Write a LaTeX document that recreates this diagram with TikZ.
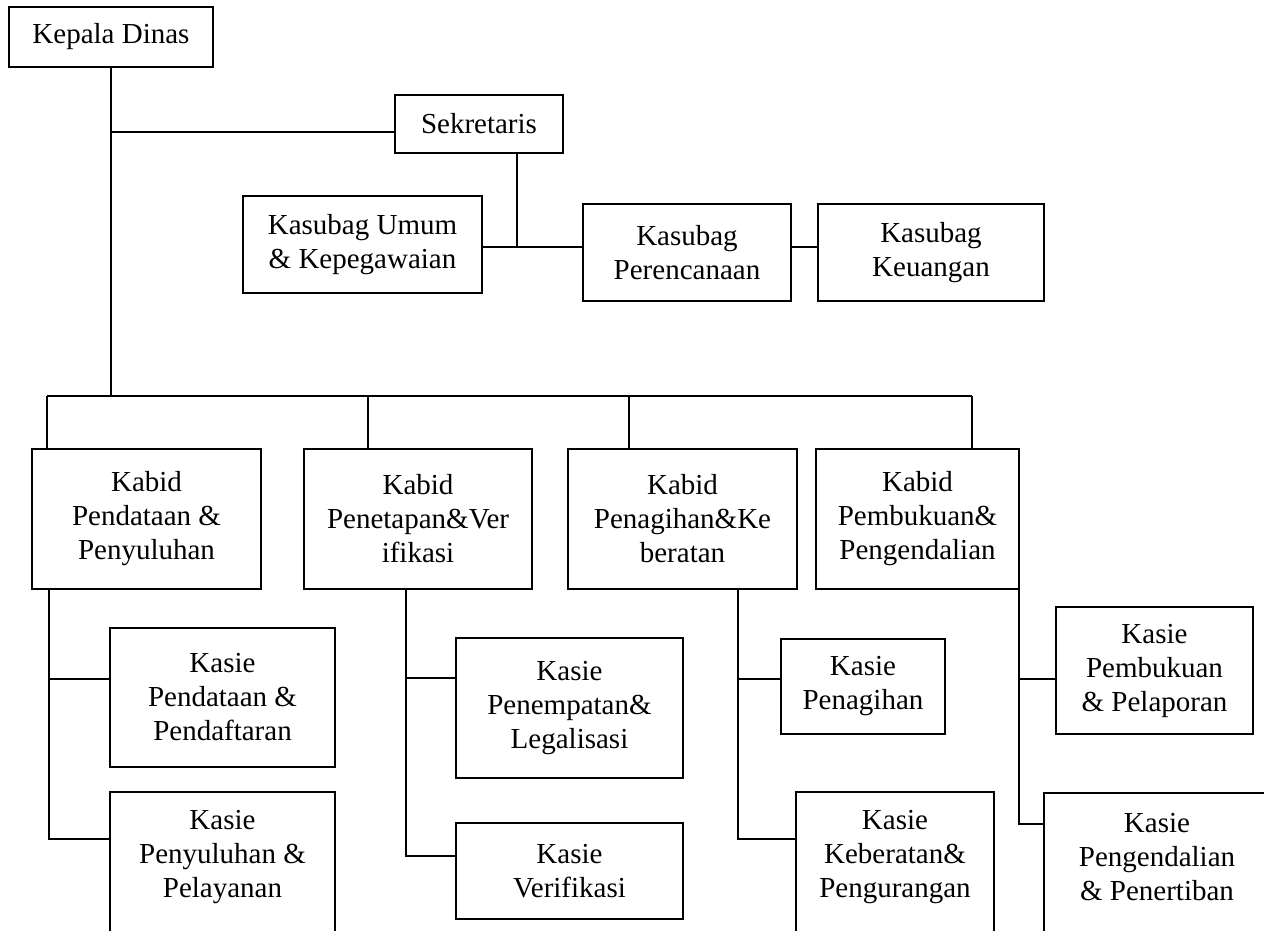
\documentclass[tikz,border=0pt]{standalone}
\usepackage{fontspec}
\setmainfont{Liberation Serif}
\newcommand\boxfont{\fontsize{29}{34}\selectfont}
\begin{document}
\begin{tikzpicture}[x=1pt,y=-1pt,
  bx/.style={draw, line width=1.8pt, inner sep=0pt, align=center, font=\boxfont},
  txt/.style={inner sep=0pt, align=center, font=\boxfont},
  ln/.style={line width=1.8pt}]
\useasboundingbox (0,0) rectangle (1264,931);
\clip (0,0) rectangle (1264,931);

% top level
\node[bx, minimum width=204pt, minimum height=60pt] (kd) at (111,37) {Kepala Dinas};
\node[bx, minimum width=168pt, minimum height=58pt] (sek) at (479,124) {Sekretaris};
\node[bx, minimum width=239pt, minimum height=97pt] (umum) at (362.5,244.5) {Kasubag Umum\\\& Kepegawaian};
\node[bx, minimum width=208pt, minimum height=97pt] (ren) at (687,252.5) {Kasubag\\Perencanaan};
\node[bx, minimum width=226pt, minimum height=97pt] (keu) at (931,252.5) {Kasubag\\Keuangan};

% kabid
\node[bx, minimum width=229pt, minimum height=140pt] (kb1) at (146.5,519) {Kabid\\Pendataan \&\\Penyuluhan};
\node[bx, minimum width=228pt, minimum height=140pt] (kb2) at (418,519) {Kabid\\Penetapan\&Ver\\ifikasi};
\node[bx, minimum width=229pt, minimum height=140pt] (kb3) at (682.5,519) {Kabid\\Penagihan\&Ke\\beratan};
\node[bx, minimum width=203pt, minimum height=140pt] (kb4) at (917.5,519) {Kabid\\Pembukuan\&\\Pengendalian};

% kasie
\node[bx, minimum width=225pt, minimum height=139pt] (ks1) at (222.5,697.5) {Kasie\\Pendataan \&\\Pendaftaran};
\node[bx, minimum width=225pt, minimum height=300pt, anchor=north] (ks2) at (222.5,791) {};
\node[txt] (ks2t) at (222.5,857) {Kasie\\Penyuluhan \&\\Pelayanan};
\node[bx, minimum width=227pt, minimum height=140pt] (ks3) at (569.5,708) {Kasie\\Penempatan\&\\Legalisasi};
\node[bx, minimum width=227pt, minimum height=96pt] (ks4) at (569.5,871) {Kasie\\Verifikasi};
\node[bx, minimum width=164pt, minimum height=95pt] (ks5) at (863,686.5) {Kasie\\Penagihan};
\node[bx, minimum width=198pt, minimum height=300pt, anchor=north] (ks6) at (895,791) {};
\node[txt] (ks6t) at (895,857) {Kasie\\Keberatan\&\\Pengurangan};
\node[bx, minimum width=197pt, minimum height=127pt] (ks7) at (1154.5,670.5) {Kasie\\Pembukuan\\\& Pelaporan};
\node[bx, minimum width=226pt, minimum height=300pt, anchor=north] (ks8) at (1157,792) {};
\node[txt] (ks8t) at (1157,857) {Kasie\\Pengendalian\\\& Penertiban};

% connectors top
\coordinate (busL) at (47,396);
\coordinate (busR) at (972,396);
\coordinate (s2) at (368,396);
\coordinate (s3) at (629,396);
\coordinate (sj) at (111,132);
\coordinate (sd) at (517,247);
\draw[ln] (kd.south) -- (kd.south |- busL);
\draw[ln] (busL) -- (busR);
\draw[ln] (busL) -- (busL |- kb1.north);
\draw[ln] (s2) -- (s2 |- kb2.north);
\draw[ln] (s3) -- (s3 |- kb3.north);
\draw[ln] (busR) -- (busR |- kb4.north);
\draw[ln] (sj) -- (sj -| sek.west);
\draw[ln] (sd |- sek.south) -- (sd);
\draw[ln] (umum.east |- sd) -- (ren.west |- sd);
\draw[ln] (ren.east |- sd) -- (keu.west |- sd);

% trunks
\coordinate (t1) at (49,839);
\coordinate (u1) at (49,679);
\draw[ln] (t1 |- kb1.south) -- (t1) -- (t1 -| ks2.west);
\draw[ln] (u1) -- (u1 -| ks1.west);
\coordinate (t2) at (406,856);
\coordinate (u2) at (406,678);
\draw[ln] (t2 |- kb2.south) -- (t2) -- (t2 -| ks4.west);
\draw[ln] (u2) -- (u2 -| ks3.west);
\coordinate (t3) at (738,839);
\coordinate (u3) at (738,679);
\draw[ln] (t3 |- kb3.south) -- (t3) -- (t3 -| ks6.west);
\draw[ln] (u3) -- (u3 -| ks5.west);
\coordinate (t4) at (1019,824);
\coordinate (u4) at (1019,679);
\draw[ln] (t4 |- kb4.south) -- (t4) -- (t4 -| ks8.west);
\draw[ln] (u4) -- (u4 -| ks7.west);
\end{tikzpicture}
\end{document}
